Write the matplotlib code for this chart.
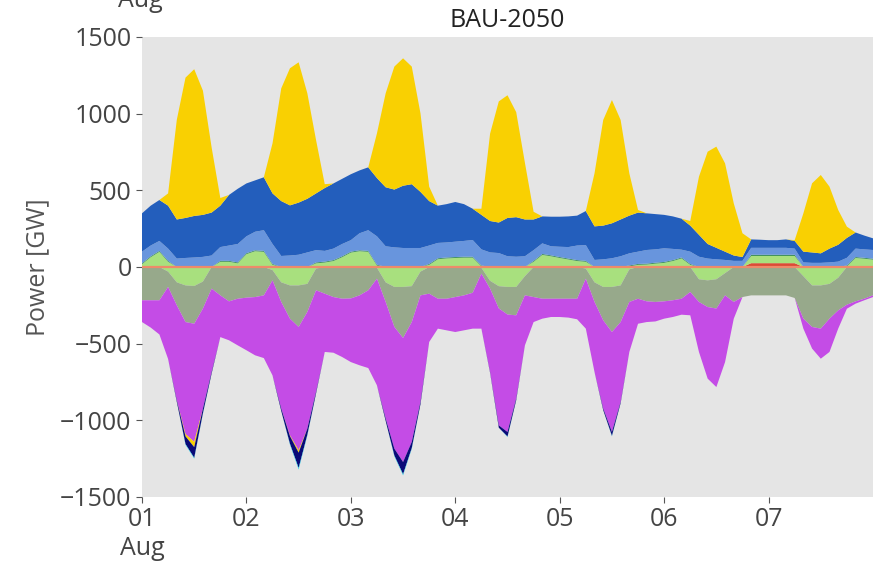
import numpy as np
import pandas as pd
import matplotlib
matplotlib.use("Agg")
import matplotlib.pyplot as plt

plt.rcParams['font.family'] = ['Open Sans', 'DejaVu Sans']

title = "BAU-2050"
ylabel = "Power [GW]"
time = pd.date_range("2013-08-01 00:00", periods=85, freq="2h")
day_ticks = pd.date_range("2013-08-01", periods=7, freq="D")
day_labels = ["01\nAug", "02", "03", "04", "05", "06", "07"]
yticks = [-1500, -1000, -500, 0, 500, 1000, 1500]

# ---- generation (positive, GW), 2-hourly ----
red = [0]*70 + [25, 25, 25, 25, 25, 25] + [0]*9
battery_dis = [18, 64, 99, 34, 0, 0, 0, 0, 0, 34, 34, 24, 84, 103, 99, 14, 0, 0, 0, 0,
               24, 29, 39, 64, 94, 103, 99, 9, 0, 0, 0, 0, 0, 14, 51, 56, 59, 61, 61, 4,
               0, 0, 0, 0, 0, 34, 79, 70, 59, 49, 39, 34, 0, 0, 0, 0, 4, 14, 16, 22,
               27, 39, 56, 14, 0, 0, 0, 0, 0, 0, 47, 47, 47, 47, 47, 47, 0, 0, 0, 0,
               0, 4, 59, 54, 48]
fuel_cell = [6, 6, 6, 6, 0, 0, 0, 0, 0, 6, 6, 6, 6, 6, 6, 6, 0, 0, 0, 0,
             6, 6, 6, 6, 6, 6, 6, 6, 0, 0, 0, 0, 0, 6, 6, 6, 6, 6, 6, 6,
             0, 0, 0, 0, 0, 6, 6, 6, 6, 6, 6, 6, 0, 0, 0, 0, 6, 6, 6, 6,
             6, 6, 6, 6, 0, 0, 0, 0, 0, 0, 8, 8, 8, 8, 8, 8, 0, 0, 0, 0,
             0, 6, 6, 6, 6]
offwind = [76, 70, 65, 80, 55, 59, 62, 66, 75, 90, 100, 120, 110, 121, 135, 130, 72, 75, 80, 95,
           80, 70, 75, 80, 75, 111, 135, 185, 135, 128, 124, 124, 124, 120, 100, 98, 100, 103, 109, 105,
           95, 91, 70, 67, 70, 70, 69, 59, 67, 75, 95, 103, 46, 50, 57, 70, 79, 80, 89, 87,
           89, 73, 51, 80, 67, 55, 50, 46, 40, 40, 45, 45, 45, 45, 45, 40, 30, 27, 27, 30,
           35, 50, 55, 55, 57]
onwind = [250, 260, 267, 280, 255, 261, 271, 274, 280, 270, 330, 360, 345, 335, 345, 330, 358, 327, 340, 350,
          370, 410, 425, 425, 430, 410, 410, 380, 385, 377, 406, 416, 366, 290, 243, 250, 259, 240, 204, 225,
          205, 199, 250, 258, 240, 200, 176, 193, 196, 200, 195, 222, 219, 220, 228, 240, 246, 255, 239, 230,
          218, 212, 202, 170, 143, 95, 75, 54, 35, 25, 55, 53, 50, 50, 55, 50, 70, 68, 62, 90,
          110, 130, 105, 90, 76]
solar = [0, 0, 0, 80, 650, 915, 957, 810, 425, 50, 0, 0, 0, 0, 0, 327, 735, 894, 915, 688,
         348, 25, 0, 0, 0, 0, 0, 292, 613, 802, 831, 767, 512, 94, 0, 0, 0, 0, 0, 40,
         570, 790, 800, 685, 370, 50, 0, 0, 0, 0, 0, 0, 346, 689, 804, 649, 276, 17, 0, 0,
         0, 0, 0, 30, 379, 602, 660, 576, 340, 155, 0, 0, 0, 0, 0, 5, 250, 451, 511, 404,
         227, 73, 0, 0, 0]

# ---- consumption (drawn below zero, GW magnitudes), 2-hourly ----
battery_chg = [0, 0, 0, 30, 100, 120, 124, 95, 0, 0, 0, 0, 0, 0, 0, 20, 100, 120, 120, 110,
               10, 0, 0, 0, 0, 0, 0, 5, 100, 130, 130, 125, 30, 0, 0, 0, 0, 0, 0, 5,
               90, 125, 130, 130, 60, 0, 0, 0, 0, 0, 0, 10, 100, 130, 130, 120, 15, 0, 0, 0,
               0, 0, 0, 0, 80, 87, 80, 40, 0, 0, 0, 0, 0, 0, 0, 0, 60, 120, 120, 110,
               70, 0, 0, 0, 0]
heat = [217, 217, 217, 100, 150, 239, 246, 176, 141, 185, 224, 207, 200, 196, 185, 67, 128, 217, 271, 183,
        142, 174, 196, 207, 205, 185, 152, 71, 128, 261, 333, 234, 155, 174, 207, 207, 196, 185, 168, 38,
        51, 145, 180, 185, 125, 196, 207, 207, 207, 207, 207, 66, 128, 218, 294, 239, 213, 207, 224, 228,
        224, 217, 207, 163, 148, 174, 191, 145, 228, 196, 185, 185, 185, 185, 185, 202, 277, 271, 282, 227,
        213, 246, 224, 207, 185]
electrolysis = [142, 178, 223, 470, 620, 731, 770, 653, 544, 272, 254, 304, 343, 380, 409, 620, 696, 761, 805, 761,
                663, 380, 363, 380, 415, 456, 507, 696, 761, 794, 809, 782, 695, 315, 195, 206, 228, 228, 234, 359,
                544, 763, 766, 544, 326, 163, 130, 119, 119, 123, 134, 326, 457, 576, 652, 521, 326, 163, 135, 127,
                113, 109, 104, 152, 326, 467, 512, 435, 109, 0, 0, 0, 0, 0, 0, 0, 65, 141, 196, 217,
                119, 26, 15, 10, 11]
solar_curtail = [0, 0, 0, 0, 0, 15, 35, 0, 0, 0, 0, 0, 0, 0, 0, 0, 0, 5, 15, 0,
                 0, 0, 0, 0, 0, 0, 0, 0, 0, 0, 0, 0, 0, 0, 0, 0, 0, 0, 0, 0,
                 0, 0, 0, 0, 0, 0, 0, 0, 0, 0, 0, 0, 0, 0, 0, 0, 0, 0, 0, 0,
                 0, 0, 0, 0, 0, 0, 0, 0, 0, 0, 0, 0, 0, 0, 0, 0, 0, 0, 0, 0,
                 0, 0, 0, 0, 0]
h2_store = [0, 0, 0, 0, 10, 50, 70, 30, 10, 0, 0, 0, 0, 0, 0, 0, 15, 50, 100, 40,
            10, 0, 0, 0, 0, 0, 0, 0, 15, 45, 80, 40, 15, 0, 0, 0, 0, 0, 0, 0,
            5, 15, 30, 10, 0, 0, 0, 0, 0, 0, 0, 0, 0, 10, 25, 8, 0, 0, 0, 0,
            0, 0, 0, 0, 0, 0, 0, 0, 0, 0, 0, 0, 0, 0, 0, 0, 0, 0, 0, 0,
            0, 0, 0, 0, 0]
other_load = [0, 0, 0, 0, 0, 5, 5, 3, 0, 0, 0, 0, 0, 0, 0, 0, 0, 5, 10, 5,
              0, 0, 0, 0, 0, 0, 0, 0, 0, 5, 7, 5, 0, 0, 0, 0, 0, 0, 0, 0,
              0, 0, 3, 0, 0, 0, 0, 0, 0, 0, 0, 0, 0, 0, 3, 0, 0, 0, 0, 0,
              0, 0, 0, 0, 0, 0, 0, 0, 0, 0, 0, 0, 0, 0, 0, 0, 0, 0, 0, 0,
              0, 0, 0, 0, 0]

pos_series = [red, battery_dis, fuel_cell, offwind, onwind, solar]
pos_colors = ["#dc4b36", "#a8e07e", "#3b8f5a", "#6895dd", "#235ebc", "#f9d002"]
neg_series = [battery_chg, heat, electrolysis, solar_curtail, h2_store, other_load]
neg_colors = ["#a8e07e", "#97a98b", "#c44ce6", "#f9d002", "#0a0a78", "#22e0f0"]

fig = plt.figure(figsize=(8.84, 5.69), dpi=100)
ax = fig.add_axes([142/884, 1-497/569, (873-142)/884, (497-37)/569])
ax.set_facecolor("#e5e5e5")

ax.stackplot(time, *[np.array(s, float) for s in pos_series], colors=pos_colors, linewidth=0)
ax.stackplot(time, *[-np.array(s, float) for s in neg_series], colors=neg_colors, linewidth=0)
ax.axhline(0, color="#ee8a6a", lw=1.6, zorder=3)

ax.set_xlim(time[0], time[-1])
ax.set_ylim(-1500, 1500)
ax.set_yticks(yticks)
ax.set_xticks(day_ticks)
ax.set_xticklabels(day_labels)
ax.xaxis.set_minor_locator(matplotlib.ticker.NullLocator())
for s in ax.spines.values():
    s.set_visible(False)
ax.tick_params(axis="both", colors="#555555", labelcolor="#444444", labelsize=18, length=4, width=0.8)
ax.set_ylabel(ylabel, fontsize=18, color="#555555", labelpad=7)
ax.set_title(title, fontsize=18, color="#222222", pad=7)

fig.text(140/884, 1-7/569, "Aug", ha="center", va="baseline", fontsize=18, color="#444444")

fig.savefig("out.png", dpi=100)
